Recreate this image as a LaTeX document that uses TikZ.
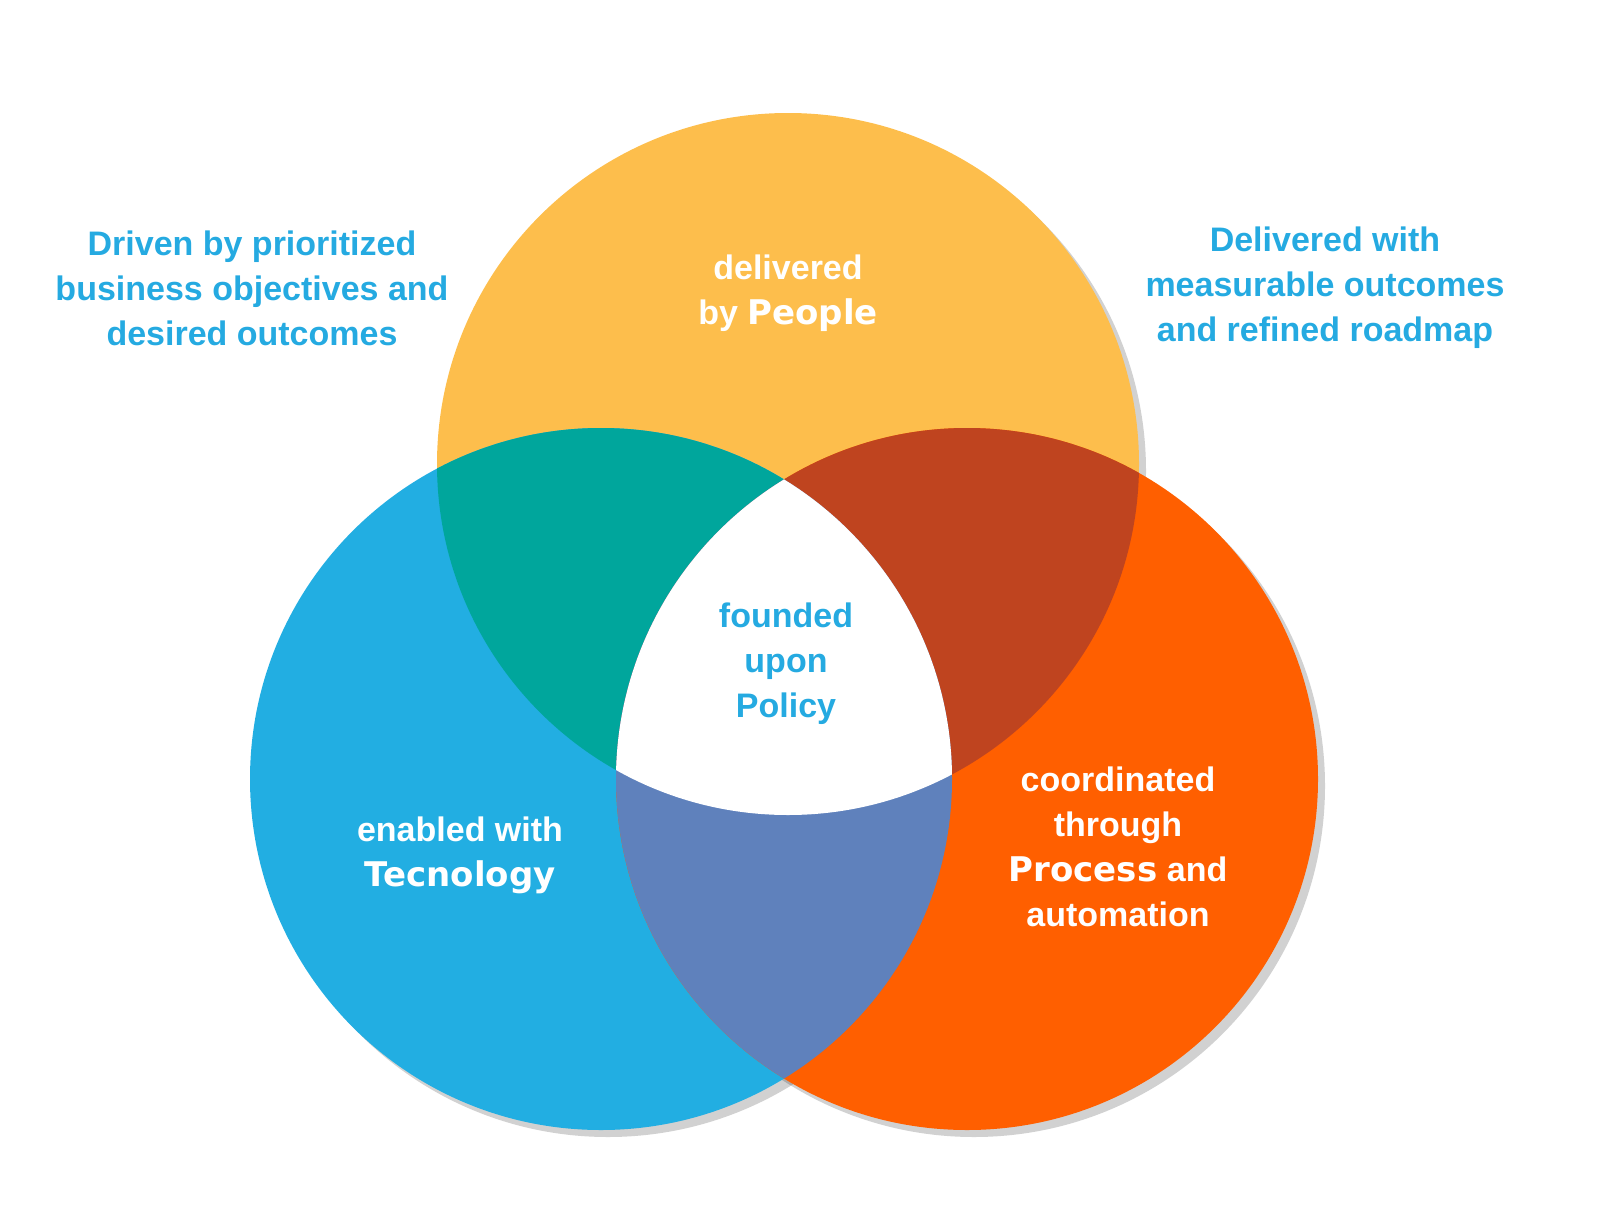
\documentclass[tikz,border=0pt]{standalone}
\usepackage{fontspec}
\setmainfont{Liberation Sans}
\newfontfamily\heavyfont{DejaVu Sans}
\usepackage{xcolor}
\usetikzlibrary{calc}
\definecolor{peoplecol}{HTML}{FDBE4C}
\definecolor{techcol}{HTML}{22AEE2}
\definecolor{proccol}{HTML}{FF5F00}
\definecolor{tealcol}{HTML}{00A69C}
\definecolor{brickcol}{HTML}{BF441F}
\definecolor{slatecol}{HTML}{5F81BC}
\definecolor{textblue}{HTML}{25AAE1}

\begin{document}
\begin{tikzpicture}[x=1pt,y=-1pt]

        \def\r{351}

        % Styles for the labels
        \tikzset{
            sidetext/.style={align=center, text=textblue,
                font=\fontsize{34}{45}\selectfont\bfseries},
            intext/.style={align=center, text=white,
                font=\fontsize{34}{45}\selectfont\bfseries},
        }

        \useasboundingbox (0,0) rectangle (1600,1223);

        % Circle centres
        \coordinate (P) at (788,464);
        \coordinate (T) at (601,779);
        \coordinate (R) at (967,779);

        % Shadows
        \foreach \c in {P,T,R}
            \fill[black, opacity=0.18] ($(\c)+(7,7)$) circle (\r);

        \fill[peoplecol] (P) circle (\r);
        \fill[techcol] (T) circle (\r);
        \fill[proccol] (R) circle (\r);

        \begin{scope}
            \clip (P) circle (\r);
            \fill[tealcol] (T) circle (\r);
            \fill[brickcol] (R) circle (\r);
        \end{scope}
        \begin{scope}
            \clip (T) circle (\r);
            \fill[slatecol] (R) circle (\r);
            \clip (R) circle (\r);
            \fill[white] (P) circle (\r);
        \end{scope}

        % Labels
        \node (Drv) [sidetext] at (252,288)
        {Driven by prioritized\\business objectives and\\desired outcomes};
        \node (Dlv) [sidetext] at (1325,288)
        {Delivered with\\measurable outcomes\\and refined roadmap};
        \node (Ppl) [intext] at (788,293)
        {delivered\\by {\heavyfont People}};
        \node (Pol) [sidetext] at (786,664)
        {founded\\upon\\Policy};
        \node (Tec) [intext] at (460,855)
        {enabled with\\{\heavyfont Tecnology}};
        \node (Prc) [intext] at (1118,847)
        {coordinated\\through\\{\heavyfont Process} and\\automation};

\end{tikzpicture}
\end{document}
